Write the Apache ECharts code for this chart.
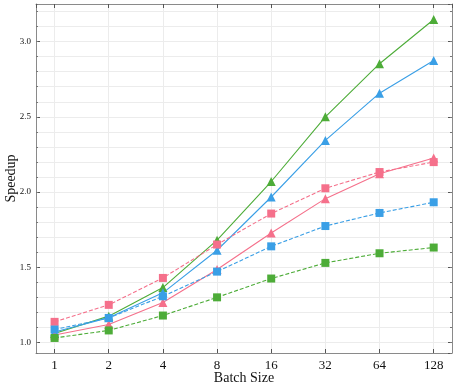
<!DOCTYPE html>
<html>
<head>
<meta charset="utf-8">
<script src="https://cdn.jsdelivr.net/npm/echarts@6/dist/echarts.min.js"></script>
<style>
  html, body { margin: 0; padding: 0; background: #fff; }
  #chart { width: 456px; height: 389px; }
</style>
</head>
<body>
<div id="chart"></div>
<script>
// batch sizes (x axis, log2 spaced)
var batchSizes = [1, 2, 4, 8, 16, 32, 64, 128];

// speedup values
var greenTri = [1.06, 1.175, 1.365, 1.68, 2.07, 2.50, 2.853, 3.147];
var blueTri  = [1.07, 1.165, 1.33, 1.613, 1.967, 2.343, 2.657, 2.875];
var pinkTri  = [1.05, 1.12, 1.266, 1.485, 1.728, 1.956, 2.121, 2.226];
var pinkSq   = [1.137, 1.25, 1.429, 1.651, 1.857, 2.025, 2.133, 2.199];
var blueSq   = [1.086, 1.163, 1.307, 1.471, 1.639, 1.774, 1.861, 1.932];
var greenSq  = [1.03, 1.08, 1.179, 1.30, 1.425, 1.529, 1.593, 1.631];

var PINK = '#f5708b', BLUE = '#3a9fe6', GREEN = '#4dac38';
var FONT = '"Liberation Serif", "DejaVu Serif", serif';
var X_MIN = -0.343, X_MAX = 7.338, Y_MIN = 0.93, Y_MAX = 3.25;
var gridRect = { left: 36, right: 4, top: 4, bottom: 36, outerBoundsMode: 'none', containLabel: false };

function pts(vals) {
    return vals.map(function (v, i) { return [Math.log2(batchSizes[i]), v]; });
}

function mkSeries(name, vals, color, symbol, dashed, size) {
    return {
        name: name,
        type: 'line',
        xAxisIndex: 0,
        yAxisIndex: 0,
        data: pts(vals),
        symbol: symbol,
        symbolSize: size,
        showSymbol: true,
        lineStyle: { color: color, width: 1.1, type: dashed ? [4, 2] : 'solid' },
        itemStyle: { color: color },
        emphasis: { disabled: true }
    };
}

function isMultiple(v, step) {
    return Math.abs(v / step - Math.round(v / step)) < 1e-6;
}

var chart = echarts.init(document.getElementById('chart'));

var frameLine = { show: true, onZero: false, lineStyle: { color: '#8a8a8a', width: 1 } };
var noLine = { show: false, onZero: false };

// intervals are left to ECharts (splitNumber) so ticks land on round values
var option = {
    animation: false,
    grid: [
        Object.assign({}, gridRect),
        Object.assign({}, gridRect)
    ],
    xAxis: [
        {   // main bottom axis
            type: 'value', gridIndex: 0, position: 'bottom',
            min: X_MIN, max: X_MAX, splitNumber: 8,
            name: 'Batch Size', nameLocation: 'middle', nameGap: 18, nameMoveOverlap: false,
            nameTextStyle: { fontFamily: FONT, fontSize: 14, color: '#111', verticalAlign: 'top' },
            axisLine: frameLine,
            axisTick: { inside: true, length: 4, lineStyle: { color: '#555' } },
            axisLabel: {
                fontFamily: FONT, fontSize: 13, color: '#111', margin: 6,
                showMinLabel: false, showMaxLabel: false,
                formatter: function (v) { return isMultiple(v, 1) ? String(Math.pow(2, Math.round(v))) : ''; }
            },
            splitLine: { show: true, lineStyle: { color: '#ececec', width: 1 } }
        },
        {   // top frame with ticks
            type: 'value', gridIndex: 0, position: 'top',
            min: X_MIN, max: X_MAX, splitNumber: 8,
            axisLine: frameLine,
            axisTick: { inside: true, length: 4, lineStyle: { color: '#555' } },
            axisLabel: { show: false },
            splitLine: { show: false }
        },
        {   // helper axes for minor grid
            type: 'value', gridIndex: 1, position: 'bottom',
            min: X_MIN, max: X_MAX, show: false, axisLine: noLine
        },
        {
            type: 'value', gridIndex: 1, position: 'top',
            min: X_MIN, max: X_MAX, show: false, axisLine: noLine
        }
    ],
    yAxis: [
        {   // main left axis, major ticks
            type: 'value', gridIndex: 0, position: 'left',
            min: Y_MIN, max: Y_MAX, splitNumber: 5,
            name: 'Speedup', nameLocation: 'middle', nameGap: 18, nameMoveOverlap: false,
            nameTextStyle: { fontFamily: FONT, fontSize: 14, color: '#111' },
            axisLine: frameLine,
            axisTick: { inside: true, length: 4, lineStyle: { color: '#555' } },
            axisLabel: {
                fontFamily: FONT, fontSize: 9, color: '#111', margin: 5,
                showMinLabel: false, showMaxLabel: false,
                formatter: function (v) { return isMultiple(v, 0.5) ? v.toFixed(1) : ''; }
            },
            splitLine: { show: false }
        },
        {   // right frame, major ticks
            type: 'value', gridIndex: 0, position: 'right',
            min: Y_MIN, max: Y_MAX, splitNumber: 5,
            axisLine: frameLine,
            axisTick: { inside: true, length: 4, lineStyle: { color: '#555' } },
            axisLabel: { show: false },
            splitLine: { show: false }
        },
        {   // minor ticks + grid, left
            type: 'value', gridIndex: 1, position: 'left',
            min: Y_MIN, max: Y_MAX, splitNumber: 23,
            axisLine: noLine,
            axisTick: { inside: true, length: 2, lineStyle: { color: '#777' } },
            axisLabel: { show: false },
            splitLine: { show: true, lineStyle: { color: '#ececec', width: 1 } }
        },
        {   // minor ticks, right
            type: 'value', gridIndex: 1, position: 'right',
            min: Y_MIN, max: Y_MAX, splitNumber: 23,
            axisLine: noLine,
            axisTick: { inside: true, length: 2, lineStyle: { color: '#777' } },
            axisLabel: { show: false },
            splitLine: { show: false }
        }
    ],
    series: [
        mkSeries('green-tri', greenTri, GREEN, 'triangle', false, 9),
        mkSeries('blue-tri', blueTri, BLUE, 'triangle', false, 9),
        mkSeries('pink-tri', pinkTri, PINK, 'triangle', false, 9),
        mkSeries('pink-sq', pinkSq, PINK, 'rect', true, 8),
        mkSeries('green-sq', greenSq, GREEN, 'rect', true, 8),
        mkSeries('blue-sq', blueSq, BLUE, 'rect', true, 8)
    ]
};

chart.setOption(option);
</script>
</body>
</html>
